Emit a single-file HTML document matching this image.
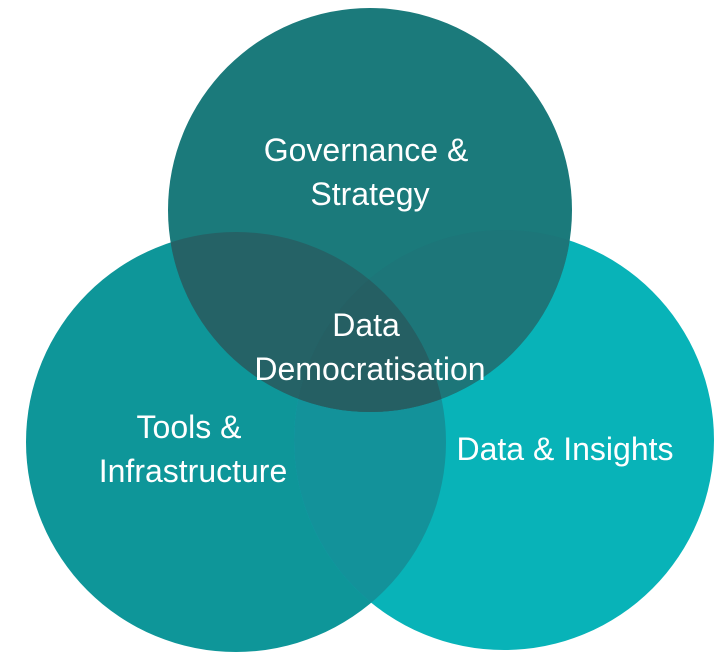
<!DOCTYPE html>
<html><head><meta charset="utf-8"><style>
html,body{margin:0;padding:0;background:#fff;width:726px;height:657px;overflow:hidden}
svg{display:block}
text{font-family:"Liberation Sans",sans-serif;font-size:32px;fill:#fff;text-anchor:middle}
</style></head><body>
<svg width="726" height="657" viewBox="0 0 726 657">
<defs>
<clipPath id="cL"><circle cx="236" cy="442" r="210"/></clipPath>
<clipPath id="cR"><circle cx="504" cy="440" r="210"/></clipPath>
</defs>
<circle cx="236" cy="442" r="210" fill="#0e9699"/>
<circle cx="504" cy="440" r="210" fill="#08b3b8"/>
<circle cx="504" cy="440" r="210" fill="#13929a" clip-path="url(#cL)"/>
<circle cx="370" cy="210" r="202" fill="#1b7a7b"/>
<circle cx="370" cy="210" r="202" fill="#256266" clip-path="url(#cL)"/>
<g clip-path="url(#cR)"><circle cx="370" cy="210" r="202" fill="#1d7679"/></g>
<g clip-path="url(#cL)"><g clip-path="url(#cR)"><circle cx="370" cy="210" r="202" fill="#255f63"/></g></g>
<text x="366" y="161">Governance &amp;</text>
<text x="370" y="205">Strategy</text>
<text x="366" y="336">Data</text>
<text x="370" y="380">Democratisation</text>
<text x="189" y="438">Tools &amp;</text>
<text x="193" y="482">Infrastructure</text>
<text x="565" y="460">Data &amp; Insights</text>
</svg>
</body></html>
